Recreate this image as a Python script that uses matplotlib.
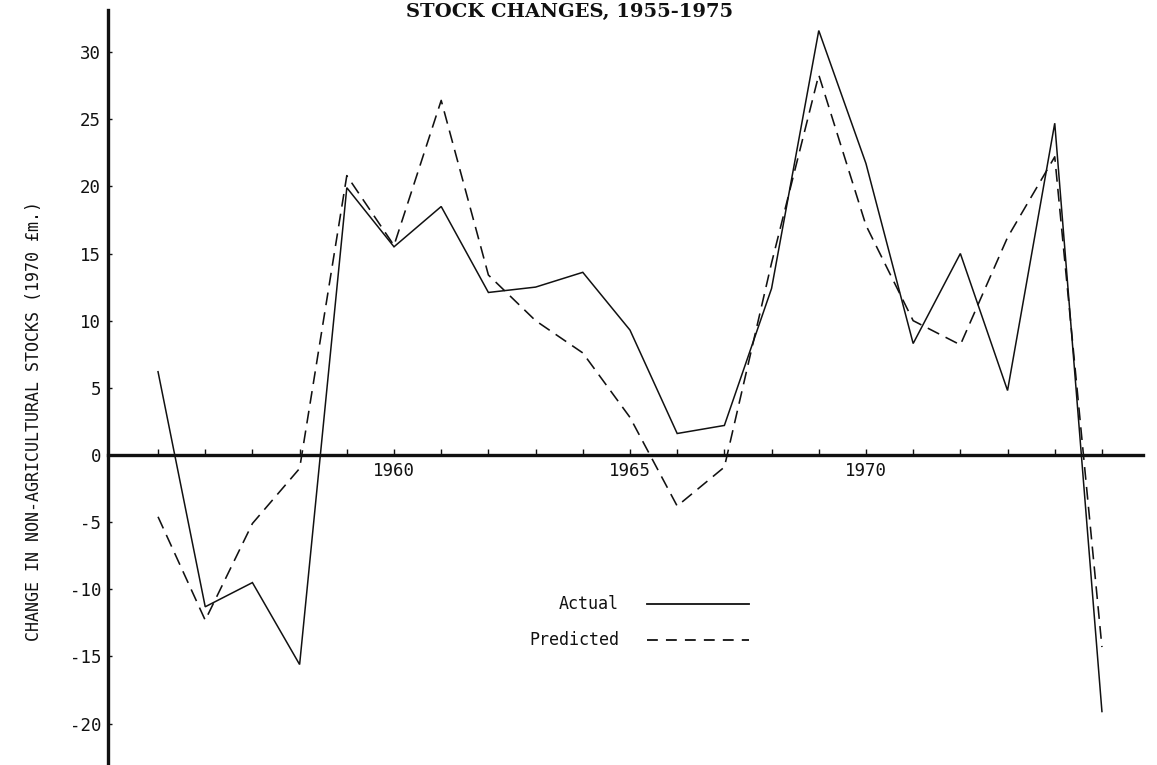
import matplotlib
matplotlib.use("Agg")
import matplotlib.pyplot as plt
from matplotlib.lines import Line2D

# ---- data ----
years = list(range(1955, 1976))
actual = [6.2, -11.3, -9.5, -15.6, 19.9, 15.5, 18.5, 12.1, 12.5, 13.6, 9.3,
          1.6, 2.2, 12.4, 31.6, 21.7, 8.3, 15.0, 4.8, 24.7, -19.1]
predicted = [-4.6, -12.3, -5.1, -1.0, 20.8, 15.6, 26.4, 13.4, 10.0, 7.6, 2.8,
             -3.8, -0.9, 14.3, 28.3, 17.1, 10.0, 8.2, 16.2, 22.2, -14.3]
labelled_years = [1960, 1965, 1970]
y_ticks = [-20, -15, -10, -5, 0, 5, 10, 15, 20, 25, 30]

title = "STOCK CHANGES, 1955-1975"
ylabel = "CHANGE IN NON-AGRICULTURAL STOCKS (1970 \u00a3m.)"

MONO = "DejaVu Sans Mono"
INK = "#111111"

W, H = 1157, 765
fig = plt.figure(figsize=(W / 100, H / 100), dpi=100)
ax = fig.add_axes([108 / W, 0.0, (1143 - 108) / W, 755 / H])

ax.plot(years, actual, color=INK, lw=1.1, solid_joinstyle="miter")
ax.plot(years, predicted, color=INK, lw=1.15, dashes=(8, 4.5))

ax.set_xlim(1953.94, 1975.87)
ax.set_ylim(-23.08, 33.13)

for s in ("top", "right"):
    ax.spines[s].set_visible(False)
ax.spines["left"].set_linewidth(2.4)
ax.spines["left"].set_color(INK)
ax.spines["bottom"].set_position(("data", 0))
ax.spines["bottom"].set_linewidth(2.4)
ax.spines["bottom"].set_color(INK)

ax.set_xticks(years)
ax.set_xticklabels([str(y) if y in labelled_years else "" for y in years])
ax.set_yticks(y_ticks)
ax.set_yticklabels([str(v) for v in y_ticks])
ax.tick_params(axis="x", direction="in", length=4, width=1.0, pad=5,
               labelsize=12.5, colors=INK)
ax.tick_params(axis="y", direction="in", length=3, width=1.0, pad=5,
               labelsize=12.5, colors=INK)
for t in ax.get_xticklabels() + ax.get_yticklabels():
    t.set_fontfamily(MONO)

ax.set_ylabel(ylabel, fontfamily=MONO, fontsize=12, color=INK, va="center")
ax.yaxis.set_label_coords((34 - 108) / 1035, (765 - 421) / 755)

fig.text(570 / W, 1 - 17 / H, title, ha="center", va="baseline",
         fontfamily="DejaVu Serif", fontweight="bold", fontsize=14, color=INK)

# ---- legend (drawn in axes coordinates) ----
x0, x1 = (647 - 108) / 1035, (749 - 108) / 1035
xt = (619 - 108) / 1035
legend_rows = [("Actual", 604, dict(lw=1.3)),
               ("Predicted", 640, dict(lw=1.3, dashes=(6, 4.5)))]
for text, ypx, style in legend_rows:
    yy = (765 - ypx) / 755
    ax.add_line(Line2D([x0, x1], [yy, yy], transform=ax.transAxes,
                       color=INK, **style))
    ax.text(xt, yy, text, transform=ax.transAxes, ha="right", va="center",
            fontfamily=MONO, fontsize=12, color=INK)

fig.savefig("out.png", dpi=100, facecolor="white")
